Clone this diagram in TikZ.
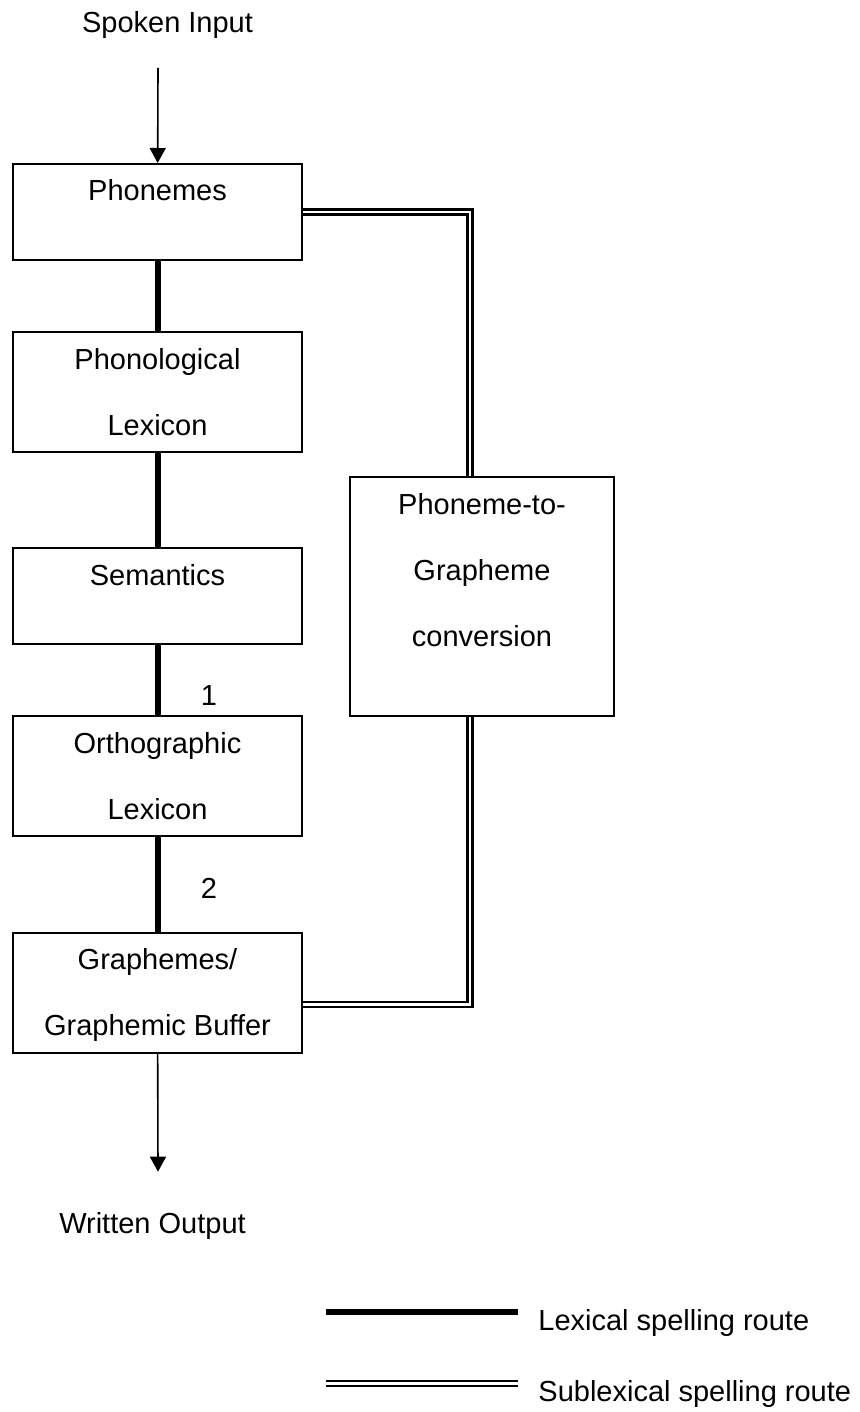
\documentclass[tikz,border=0pt]{standalone}
\usepackage{fontspec}
\setmainfont{Liberation Sans}
\usetikzlibrary{arrows.meta,positioning}

\tikzset{
  box/.style={draw, line width=1pt, minimum width=144.5pt, inner sep=0pt},
  txt/.style={font=\fontsize{14.5}{33}\selectfont, align=center, anchor=base, inner sep=0pt},
  lexical/.style={line width=3pt},
  sublexical/.style={double, double distance=1.4pt, line width=1.1pt},
  into/.style={line width=0.8pt, -{Triangle[length=7.5pt,width=8pt]}}
}

\begin{document}
\begin{tikzpicture}[x=0.5pt, y=-0.5pt]
        \useasboundingbox (0,0) rectangle (860,1412);

        % boxes
        \node[box, minimum height=48pt] (phonemes) at (157.5,212) {};
        \node[box, minimum height=60pt] (phonlex) at (157.5,392) {};
        \node[box, minimum height=48pt] (semantics) at (157.5,596) {};
        \node[box, minimum height=60pt] (orthlex) at (157.5,776) {};
        \node[box, minimum height=60pt] (graphemes) at (157.5,992.7) {};
        \node[box, minimum width=132pt, minimum height=119.5pt] (pgc) at (482,596.5) {};

        % box texts (base = baseline of the last line)
        \node[txt] (phonemes-t) at ([yshift=-19pt]phonemes.north) {Phonemes};
        \node[txt] (phonlex-t) at ([yshift=-52pt]phonlex.north) {Phonological\\Lexicon};
        \node[txt] (semantics-t) at ([yshift=-19pt]semantics.north) {Semantics};
        \node[txt] (orthlex-t) at ([yshift=-52pt]orthlex.north) {Orthographic\\Lexicon};
        \node[txt] (graphemes-t) at ([yshift=-52pt]graphemes.north) {Graphemes/\\Graphemic Buffer};
        \node[txt] (pgc-t) at ([yshift=-85pt]pgc.north) {Phoneme-to-\\Grapheme\\conversion};

        % input and output
        \node[txt] (input) at (167.5,33) {Spoken Input};
        \node[txt] (output) at (152.5,1233) {Written Output};
        \coordinate (start) at (158,68);
        \coordinate (finish) at (158,1171.7);
        \draw[into] (start) -- (phonemes);
        \draw[into] (graphemes) -- (finish);

        % lexical route
        \draw[lexical] (phonemes) -- (phonlex);
        \draw[lexical] (phonlex) -- (semantics);
        \draw[lexical] (semantics) -- (orthlex);
        \draw[lexical] (orthlex) -- (graphemes);
        \node[txt] (one) at (209,705.7) {1};
        \node[txt] (two) at (209,898) {2};

        % sublexical route
        \draw[sublexical] (phonemes.east) -| ([xshift=-6pt]pgc.north);
        \draw[sublexical] ([xshift=-6pt]pgc.south) |- ([yshift=-6pt]graphemes.east);

        % legend
        \coordinate (lexa) at (326,1312.3);
        \coordinate (lexb) at (518.3,1312.3);
        \coordinate (suba) at (326,1383.5);
        \coordinate (subb) at (518.3,1383.5);
        \draw[line width=3pt] (lexa) -- (lexb);
        \draw[sublexical] (suba) -- (subb);
        \node[txt, anchor=base west] (lexkey) at (538,1330) {Lexical spelling route};
        \node[txt, anchor=base west] (subkey) at (538,1401.7) {Sublexical spelling route};
    \end{tikzpicture}
\end{document}
